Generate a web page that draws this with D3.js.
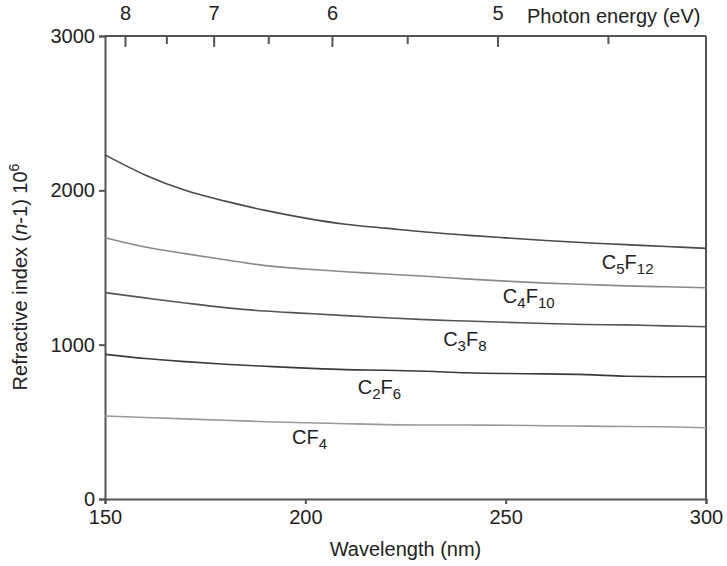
<!DOCTYPE html>
<html>
<head>
<meta charset="utf-8">
<script src="https://cdn.jsdelivr.net/npm/d3@7"></script>
<style>
  body { margin: 0; background: #fff; }
  text { font-family: "Liberation Sans", Arial, sans-serif; fill: #222; }
</style>
</head>
<body>
<script>
// wavelength grid (nm)
var wavelengths = [150, 160, 170, 180, 190, 200, 210, 220, 230, 240, 250, 260, 270, 280, 290, 300];

// (n-1) x 10^6
var c5f12 = [2230, 2100, 2000, 1930, 1870, 1820, 1780, 1755, 1730, 1710, 1692, 1675, 1660, 1648, 1636, 1624];
var c4f10 = [1693, 1633, 1590, 1550, 1512, 1490, 1472, 1458, 1443, 1426, 1412, 1399, 1390, 1381, 1375, 1369];
var c3f8  = [1337, 1303, 1270, 1240, 1218, 1203, 1188, 1174, 1162, 1153, 1145, 1137, 1131, 1128, 1122, 1116];
var c2f6  = [937, 910, 890, 873, 860, 848, 838, 834, 828, 818, 813, 811, 806, 795, 792, 792];
var cf4   = [538, 528, 519, 510, 501, 494, 488, 482, 479, 479, 478, 475, 472, 470, 468, 462];

var gasNames = [["C", "5", "F", "12"], ["C", "4", "F", "10"], ["C", "3", "F", "8"], ["C", "2", "F", "6"], ["CF", "4"]];
var gasValues = [c5f12, c4f10, c3f8, c2f6, cf4];
var lineColors = ["#4a4a4a", "#8a8a8a", "#555555", "#3a3a3a", "#9a9a9a"];
// where each name sits, in data units [wavelength, value]
var labelAnchors = [[274, 1490], [249.3, 1270], [234.4, 991], [213.1, 680], [196.7, 356]];

var xTicks = [150, 200, 250, 300];
var yTicks = [0, 1000, 2000, 3000];
var energyMajor = [8, 7, 6, 5];
var energyMinor = [7.5, 6.5, 5.5, 4.5];
var hc = 1239.84; // eV nm

var width = 727, height = 566;
var margin = { left: 105, right: 21, top: 36, bottom: 67 };
var innerW = width - margin.left - margin.right;
var innerH = height - margin.top - margin.bottom;

var x = d3.scaleLinear().domain([150, 300]).range([0, innerW]);
var y = d3.scaleLinear().domain([0, 3000]).range([innerH, 0]);

var svg = d3.select('body').append('svg').attr('width', width).attr('height', height);
var g = svg.append('g').attr('transform', 'translate(' + margin.left + ',' + margin.top + ')');

var axisColor = "#555";

// bottom axis
var xAxis = d3.axisBottom(x).tickValues(xTicks).tickSize(5).tickPadding(6).tickFormat(d3.format('d'));
var gx = g.append('g').attr('transform', 'translate(0,' + innerH + ')').call(xAxis);

// left axis
var yAxis = d3.axisLeft(y).tickValues(yTicks).tickSize(6).tickPadding(4).tickFormat(d3.format('d'));
var gy = g.append('g').call(yAxis);

// top axis: photon energy
var topMajor = d3.axisTop(x).tickValues(energyMajor.map(function(e) { return hc / e; }))
    .tickSizeInner(-11).tickSizeOuter(0).tickPadding(16)
    .tickFormat(function(d) { return Math.round(hc / d); });
var gt = g.append('g').call(topMajor);
var topMinor = d3.axisTop(x).tickValues(energyMinor.map(function(e) { return hc / e; }))
    .tickSizeInner(-8).tickSizeOuter(0).tickFormat('');
var gt2 = g.append('g').call(topMinor);

// right frame line
g.append('line').attr('x1', innerW).attr('x2', innerW).attr('y1', 0).attr('y2', innerH)
    .attr('stroke', axisColor).attr('stroke-width', 2);

[gx, gy, gt, gt2].forEach(function(a) {
    a.selectAll('.domain').attr('stroke', axisColor).attr('stroke-width', 2);
    a.selectAll('.tick line').attr('stroke', axisColor).attr('stroke-width', 2);
    a.selectAll('.tick text').style('font-size', '20px').attr('fill', '#222')
        .style('font-family', '"Liberation Sans", Arial, sans-serif');
});
gt.selectAll('.domain').remove();
gt2.selectAll('.domain').remove();
g.append('line').attr('x1', 0).attr('x2', innerW).attr('y1', 0).attr('y2', 0)
    .attr('stroke', axisColor).attr('stroke-width', 2);

// curves
var line = d3.line()
    .x(function(d, i) { return x(wavelengths[i]); })
    .y(function(d) { return y(d); })
    .curve(d3.curveMonotoneX);

gasValues.forEach(function(vals, k) {
    g.append('path').attr('d', line(vals)).attr('fill', 'none')
        .attr('stroke', lineColors[k]).attr('stroke-width', 1.6);
});

// gas names with subscripts
gasNames.forEach(function(parts, k) {
    var t = g.append('text').attr('x', x(labelAnchors[k][0])).attr('y', y(labelAnchors[k][1]))
        .style('font-size', '20px');
    parts.forEach(function(p, j) {
        var sub = j % 2 === 1;
        t.append('tspan').text(p)
            .style('font-size', sub ? '15px' : '20px')
            .attr('dy', j === 0 ? 0 : (sub ? 5 : -5));
    });
});

// axis titles
svg.append('text').attr('x', margin.left + innerW / 2).attr('y', 556)
    .attr('text-anchor', 'middle').style('font-size', '20px').text('Wavelength (nm)');

svg.append('text').attr('x', 527).attr('y', 23).style('font-size', '20px').text('Photon energy (eV)');

var yl = svg.append('text').attr('transform', 'translate(27,277) rotate(-90)')
    .attr('text-anchor', 'middle').style('font-size', '20px');
yl.append('tspan').text('Refractive index (');
yl.append('tspan').text('n').style('font-style', 'italic');
yl.append('tspan').text('-1) 10');
yl.append('tspan').text('6').style('font-size', '14px').attr('dy', -8);
</script>
</body>
</html>
